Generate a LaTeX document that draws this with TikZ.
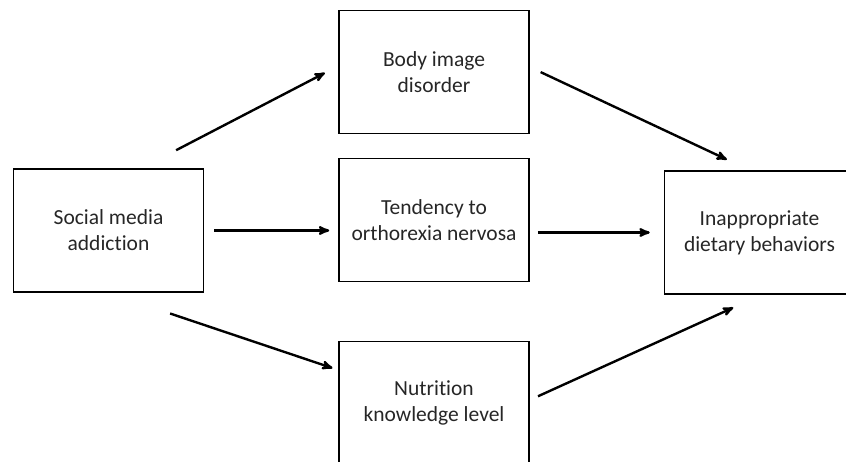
\documentclass[tikz,border=0pt]{standalone}
\usepackage{fontspec}
\setmainfont{Carlito}[Ligatures={NoCommon}]
\usepackage{tikz}
\usetikzlibrary{arrows}
\usetikzlibrary{positioning}

\begin{document}
\begin{tikzpicture}[x=1pt,y=-1pt,->,>=stealth',auto,
    main node/.style={rectangle,draw,line width=1.6pt,minimum width=190pt,minimum height=123pt,
      align=center,font=\fontsize{21.5}{26}\selectfont,text=black!85},
    main arrow/.style={line width=2.4pt}]
   \useasboundingbox (0,0) rectangle (846,462);
   \clip (0,0) rectangle (846,462);
   \begin{scope}
     \node[main node] (social) at (108.5,230.5) {Social media\\addiction};
     \node[main node] (body) at (434,72) {Body image\\disorder};
     \node[main node] (ortho) at (434,220) {Tendency to\\orthorexia nervosa};
     \node[main node] (nutri) at (434,403) {Nutrition\\knowledge level};
     \node[main node] (diet) at (759.5,232.5) {Inappropriate\\dietary behaviors};
       \path[main arrow,shorten <=39pt,shorten >=15pt] ([xshift=33pt]social.north) edge ([yshift=6pt]body.west);
       \path[main arrow,shorten <=10pt,shorten >=9pt] (social.east) edge (social.east -| ortho.west);
       \path[main arrow,shorten <=65pt,shorten >=6pt] (social.south) edge ([yshift=33pt]nutri.west);
       \path[main arrow,shorten <=12pt,shorten >=25pt] ([yshift=5pt]body.east) edge ([xshift=-10pt]diet.north);
       \path[main arrow,shorten <=8pt,shorten >=14pt] (diet.west -| ortho.east) edge (diet.west);
       \path[main arrow,shorten <=9pt,shorten >=31pt] ([yshift=3pt]nutri.east) edge ([xshift=2pt]diet.south);
    \end{scope}
  \end{tikzpicture}
\end{document}
